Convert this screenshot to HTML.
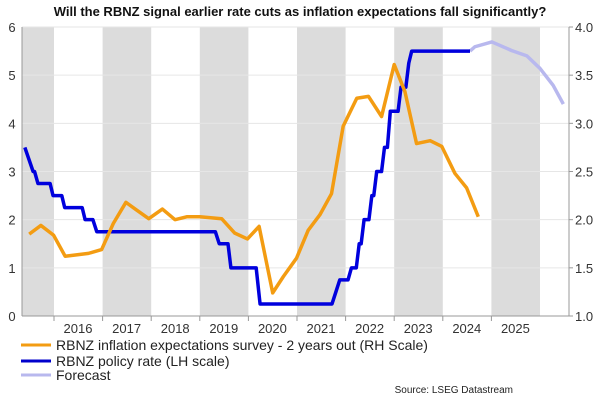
<!DOCTYPE html>
<html><head><meta charset="utf-8"><style>
body{margin:0;background:#fff;width:600px;height:400px;overflow:hidden;font-family:"Liberation Sans",sans-serif}
svg{display:block}
</style></head><body>
<svg id="c" width="600" height="400">
<text x="300" y="16" text-anchor="middle" font-size="13" font-weight="bold" fill="#111">Will the RBNZ signal earlier rate cuts as inflation expectations fall significantly?</text>
<g>
<line x1="21" y1="345" x2="51" y2="345" stroke="#f39c12" stroke-width="3"/>
<text x="56" y="350" font-size="14" fill="#222">RBNZ inflation expectations survey - 2 years out (RH Scale)</text>
<line x1="21" y1="361" x2="51" y2="361" stroke="#0000cc" stroke-width="3"/>
<text x="56" y="366" font-size="14" fill="#222">RBNZ policy rate (LH scale)</text>
<line x1="21" y1="375" x2="51" y2="375" stroke="#b8b8ee" stroke-width="3"/>
<text x="56" y="380" font-size="14" fill="#222">Forecast</text>
</g>
<text x="513" y="393" text-anchor="end" font-size="10" fill="#222">Source: LSEG Datastream</text>
</svg>
<script>
const years=[2016,2017,2018,2019,2020,2021,2022,2023,2024,2025];
const leftTicks=[0,1,2,3,4,5,6];
const rightTicks=["1.0","1.5","2.0","2.5","3.0","3.5","4.0"];
const shadedYears=[2015,2017,2019,2021,2023,2025];
const policyDates=[2015.40,2015.57,2015.60,2015.67,2015.92,2015.98,2016.16,2016.22,2016.58,2016.64,2016.80,2016.88,2019.32,2019.40,2019.58,2019.64,2020.16,2020.24,2021.72,2021.80,2021.88,2022.05,2022.12,2022.22,2022.28,2022.32,2022.38,2022.48,2022.54,2022.58,2022.64,2022.74,2022.80,2022.86,2022.92,2023.08,2023.14,2023.24,2023.30,2023.36,2024.56];
const policyValues=[3.5,3.0,3.0,2.75,2.75,2.5,2.5,2.25,2.25,2.0,2.0,1.75,1.75,1.5,1.5,1.0,1.0,0.25,0.25,0.5,0.75,0.75,1.0,1.0,1.5,1.5,2.0,2.0,2.5,2.5,3.0,3.0,3.5,3.5,4.25,4.25,4.75,4.75,5.25,5.5,5.5];
const inflDates=[2015.49,2015.73,2015.99,2016.23,2016.71,2016.98,2017.22,2017.48,2017.70,2017.95,2018.23,2018.49,2018.73,2019.00,2019.45,2019.72,2019.98,2020.22,2020.50,2020.72,2020.99,2021.23,2021.47,2021.71,2021.95,2022.23,2022.47,2022.74,2023.00,2023.22,2023.46,2023.74,2023.98,2024.25,2024.49,2024.73];
const inflValues=[1.85,1.94,1.84,1.62,1.65,1.69,1.96,2.18,2.10,2.01,2.11,2.00,2.03,2.03,2.01,1.86,1.80,1.93,1.24,1.41,1.60,1.89,2.05,2.27,2.97,3.26,3.28,3.07,3.61,3.33,2.79,2.82,2.76,2.48,2.33,2.03];
const fcDates=[2024.56,2024.66,2025.01,2025.42,2025.73,2026.00,2026.27,2026.48];
const fcValues=[5.5,5.59,5.69,5.51,5.40,5.14,4.79,4.40];

const L=22,R=569,T=27,B=316;
const x=t=>54+(t-2016)*48.6;
const yL=v=>B-(v/6)*(B-T);
const yR=v=>B-((v-1)/3)*(B-T);
const svg=document.getElementById('c');
const NS='http://www.w3.org/2000/svg';
function mk(tag,attrs,parent){const e=document.createElementNS(NS,tag);for(const k in attrs)e.setAttribute(k,attrs[k]);(parent||svg).appendChild(e);return e;}
const g=mk('g',{});


shadedYears.forEach(yr=>{
  const x0=Math.max(L,x(yr)),x1=Math.min(R,x(yr+1));
  const r=mk('rect',{x:x0,y:T,width:x1-x0,height:B-T,fill:'#dcdcdc'},g);
  
  
});
leftTicks.forEach(v=>{
  if(v>0){const l=mk('line',{x1:L,x2:R,y1:yL(v),y2:yL(v),stroke:'#e6e6e6','stroke-width':1},g);
  
  }
  const t=mk('text',{x:12,y:yL(v)+5,'text-anchor':'middle','font-size':13,fill:'#333'});
  t.textContent=v;
  
  
});
rightTicks.forEach(s=>{
  const v=parseFloat(s);
  const t=mk('text',{x:575,y:yR(v)+5,'font-size':13,fill:'#333'});
  t.textContent=s;
  
  
  mk('line',{x1:R,x2:R+4,y1:yR(v),y2:yR(v),stroke:'#999'},g);
});
mk('line',{x1:L,x2:L,y1:T,y2:B,stroke:'#999'},g);
mk('line',{x1:R,x2:R,y1:T,y2:B,stroke:'#999'},g);
mk('line',{x1:L,x2:R,y1:B,y2:B,stroke:'#999'},g);
years.forEach(yr=>{
  mk('line',{x1:x(yr),x2:x(yr),y1:B,y2:B+5,stroke:'#999'},g);
  const t=mk('text',{x:x(yr)+24,y:B+17,'text-anchor':'middle','font-size':13,fill:'#333'});
  t.textContent=yr;
  
  
});
function line(ds,vs,yf,col,name){
  const p=mk('polyline',{points:ds.map((d,i)=>x(d)+','+yf(vs[i])).join(' '),fill:'none',stroke:col,'stroke-width':3.5,'stroke-linejoin':'round'});
  
  
}
line(fcDates,fcValues,yL,'#b8b8ee','forecast-line');
line(policyDates,policyValues,yL,'#0000dd','policy-rate-line');
line(inflDates,inflValues,yR,'#f39c12','inflation-expectations-line');
</script>
</body></html>
